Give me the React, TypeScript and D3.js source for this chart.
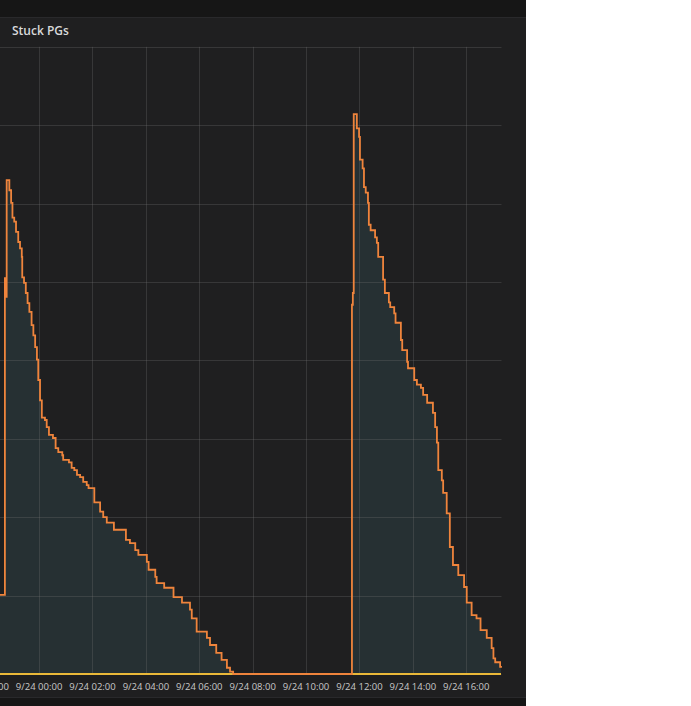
import React from "react";
import * as d3 from "d3";

// Minutes relative to 9/24 00:00, values of the "Stuck PGs" series
const stuckMinutes = [
  -100, -78, -75, -74, -68, -64, -61, -57, -53, -48, -44, -40, -39, -35, -31, -27, -23, -18, -14, -10, -6, -3,
  1, 5, 12, 16, 21, 30, 36, 42, 51, 53, 66, 72, 78, 84, 91, 98, 106, 110, 123, 136, 143, 151, 167, 194, 203,
  215, 222, 241, 245, 260, 263, 280, 301, 320, 338, 342, 353, 376, 383, 397, 409, 421, 428, 435,
  702, 704, 706, 713, 718, 720, 726, 729, 733, 738, 740, 744, 754, 758, 761, 772, 776, 785, 788, 797, 800,
  812, 815, 826, 828, 842, 848, 857, 862, 871, 884, 889, 893, 896, 904, 907, 915, 922, 929, 941, 954, 960,
  971, 982, 991, 1005, 1016, 1020, 1024, 1035, 1037,
];
const stuckValues = [
  101, 505, 481, 630, 617, 601, 582, 577, 564, 551, 543, 532, 506, 499, 486, 473, 462, 445, 432, 417, 401, 375,
  349, 327, 324, 315, 305, 301, 288, 283, 279, 273, 270, 263, 260, 254, 251, 245, 241, 237, 219, 207, 200, 193,
  184, 171, 167, 158, 152, 143, 133, 124, 116, 110, 98, 91, 82, 71, 54, 46, 37, 27, 18, 8, 3, 0,
  471, 486, 714, 696, 685, 656, 645, 621, 614, 601, 573, 566, 557, 550, 532, 503, 486, 474, 468, 460, 448,
  426, 413, 398, 390, 375, 369, 365, 356, 346, 333, 315, 295, 260, 247, 231, 205, 162, 139, 126, 111, 91,
  75, 71, 56, 46, 33, 20, 15, 9, 8,
];
const zeroMinutes = [-100, 1037];
const zeroValues = [0, 0];
const yGridValues = [0, 100, 200, 300, 400, 500, 600, 700, 800];
const title = "Stuck PGs";

const BASE = new Date(2018, 8, 24, 0, 0, 0).getTime();
const toDate = (m: number) => new Date(BASE + m * 60000);

export default function App() {
  const W = 691;
  const H = 706;
  const panelW = 526;
  const plotRight = 501;
  const x = d3.scaleTime().domain([toDate(-89), toDate(1037)]).range([0, plotRight]);
  const y = d3.scaleLinear().domain([0, 800]).range([674, 46.8]);

  const stuck = stuckMinutes.map((m, i) => ({ t: toDate(m), v: stuckValues[i] }));
  const zero = zeroMinutes.map((m, i) => ({ t: toDate(m), v: zeroValues[i] }));

  const area = d3
    .area<{ t: Date; v: number }>()
    .curve(d3.curveStepAfter)
    .x((d) => x(d.t))
    .y0(y(0))
    .y1((d) => y(d.v));
  const line = d3
    .line<{ t: Date; v: number }>()
    .curve(d3.curveStepAfter)
    .x((d) => x(d.t))
    .y((d) => y(d.v));

  const gridTicks = x.ticks(d3.timeHour.every(2)!);
  const labelTicks = d3.timeHour.every(2)!.range(toDate(-180), toDate(1037));
  const fmt = d3.timeFormat("%-m/%d %H:%M");

  return (
    <svg
      width={W}
      height={H}
      style={{ position: "absolute", left: 0, top: 0, background: "#ffffff" }}
    >
      <defs>
        <clipPath id="panelClip">
          <rect x={0} y={0} width={panelW} height={H} />
        </clipPath>
        <clipPath id="plotClip">
          <rect x={0} y={0} width={plotRight + 1} height={H} />
        </clipPath>
      </defs>
      <g clipPath="url(#panelClip)">
        <rect x={0} y={0} width={panelW} height={H} fill="#161616" />
        <rect x={-2} y={17.5} width={panelW + 4} height={680} fill="#1f1f20" stroke="#29292b" strokeWidth={1} />
        <text
          x={12}
          y={35}
          fontFamily="'Open Sans', sans-serif"
          fontWeight={600}
          fontSize={12}
          fill="#d8d9da"
        >
          {title}
        </text>
        <g clipPath="url(#plotClip)">
          <path d={area(stuck) || ""} fill="rgba(110,208,224,0.1)" />
          {yGridValues.map((v) => (
            <line
              key={"h" + v}
              x1={0}
              x2={plotRight + 0.5}
              y1={Math.round(y(v)) + 0.5}
              y2={Math.round(y(v)) + 0.5}
              stroke="rgba(120,120,120,0.28)"
              strokeWidth={1}
            />
          ))}
          {gridTicks.map((t) => (
            <line
              key={"v" + t.getTime()}
              x1={Math.floor(x(t)) + 0.5}
              x2={Math.floor(x(t)) + 0.5}
              y1={y(800)}
              y2={y(0)}
              stroke="rgba(120,120,120,0.28)"
              strokeWidth={1}
            />
          ))}
          <path d={line(zero) || ""} fill="none" stroke="#EAB839" strokeWidth={2} />
          <path d={line(stuck) || ""} fill="none" stroke="#EF843C" strokeWidth={1.8} strokeLinejoin="miter" />
        </g>
        {labelTicks.map((t) => (
          <text
            key={"l" + t.getTime()}
            x={x(t) - 0.5}
            y={689.5}
            textAnchor="middle"
            fontFamily="'Open Sans', sans-serif"
            fontSize={9.5}
            fill="#c8c8c8"
          >
            {fmt(t)}
          </text>
        ))}
      </g>
    </svg>
  );
}
